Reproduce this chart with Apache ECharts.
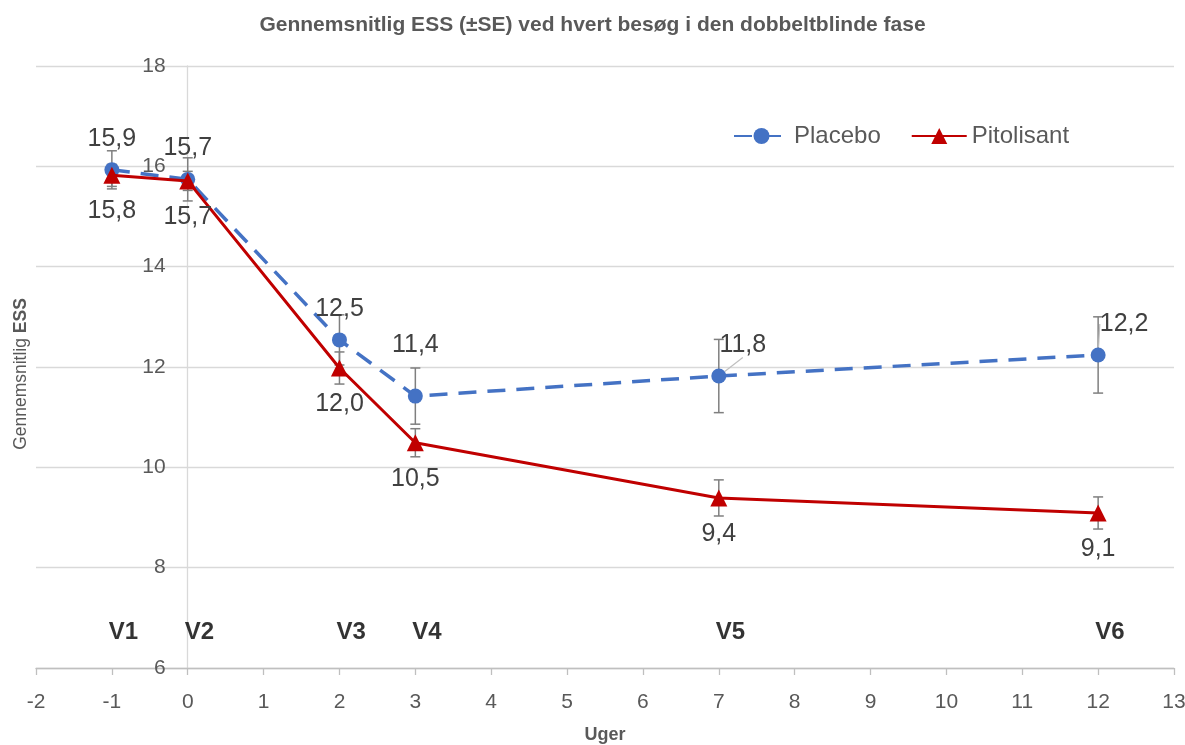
<!DOCTYPE html>
<html><head><meta charset="utf-8">
<script src="https://cdn.jsdelivr.net/npm/echarts@6/dist/echarts.min.js"></script>
<style>html,body{margin:0;padding:0;background:#fff}#c{width:1185px;height:745px}</style>
</head><body><div id="c"></div>
<script>
// ---- data ----
const weeks = [-1, 0, 2, 3, 7, 12];
const visitLabels = ['V1', 'V2', 'V3', 'V4', 'V5', 'V6'];
const placeboMean = [15.93, 15.74, 12.54, 11.42, 11.82, 12.24];
const placeboSE = [0.38, 0.43, 0.50, 0.56, 0.73, 0.76];
const pitolisantMean = [15.82, 15.71, 11.98, 10.49, 9.39, 9.09];
const pitolisantSE = [0.22, 0.19, 0.32, 0.28, 0.36, 0.32];
const xTicks = { min: -2, max: 13, interval: 1 };
const yTicks = { min: 6, max: 18, interval: 2 };

const FONT = '"Liberation Sans", Arial, sans-serif';
const fmt = v => v.toFixed(1).replace('.', ',');
const GRID_LEFT = 36;

const chart = echarts.init(document.getElementById('c'));

function errSeries(mean, se) {
  return {
    type: 'custom', silent: true, z: 1,
    data: weeks.map((w, i) => [w, mean[i] - se[i], mean[i] + se[i]]),
    encode: { x: 0, y: [1, 2] },
    renderItem(params, api) {
      const x = api.value(0);
      const lo = api.coord([x, api.value(1)]);
      const hi = api.coord([x, api.value(2)]);
      const w = 5;
      const st = { stroke: '#7f7f7f', lineWidth: 1.5 };
      return { type: 'group', children: [
        { type: 'line', shape: { x1: lo[0], y1: lo[1], x2: hi[0], y2: hi[1] }, style: st },
        { type: 'line', shape: { x1: lo[0] - w, y1: lo[1], x2: lo[0] + w, y2: lo[1] }, style: st },
        { type: 'line', shape: { x1: hi[0] - w, y1: hi[1], x2: hi[0] + w, y2: hi[1] }, style: st }
      ]};
    }
  };
}

// label tweaks (pixel offsets) for placebo points
const placeboLabelOffset = { 3: [0, -20], 4: [24, 0], 5: [26, 0] };
const placeboLeader = { 4: true, 5: true };

const placeboData = weeks.map((w, i) => {
  const d = { value: [w, placeboMean[i]] };
  if (placeboLabelOffset[i]) d.label = { offset: placeboLabelOffset[i] };
  if (placeboLeader[i]) d.labelLine = { show: true, lineStyle: { color: '#bfbfbf', width: 1.2 } };
  return d;
});
const pitolisantData = weeks.map((w, i) => [w, pitolisantMean[i]]);
const visitData = weeks.map((w, i) => ({ value: [w, 6.72], name: visitLabels[i] }));

const option = {
  animation: false,
  backgroundColor: '#fff',
  title: {
    text: 'Gennemsnitlig ESS (±SE) ved hvert besøg i den dobbeltblinde fase',
    left: 'center', top: 10,
    textStyle: { fontFamily: FONT, fontSize: 21, fontWeight: 'bold', color: '#595959' }
  },
  legend: {
    data: ['Placebo', 'Pitolisant'],
    left: 728, top: 119,
    itemWidth: 55, itemHeight: 20, itemGap: 30,
    textStyle: { fontFamily: FONT, fontSize: 24, color: '#595959' }
  },
  grid: { left: GRID_LEFT, right: 11, top: 66, bottom: 77, outerBoundsMode: 'none', containLabel: false },
  xAxis: {
    type: 'value', min: xTicks.min, max: xTicks.max, interval: xTicks.interval,
    name: 'Uger', nameLocation: 'middle', nameGap: 58,
    nameTextStyle: { fontFamily: FONT, fontSize: 18, fontWeight: 'bold', color: '#595959' },
    axisLine: { onZero: false, lineStyle: { color: '#bfbfbf', width: 1.3 } },
    axisTick: { show: true, length: 7, lineStyle: { color: '#bfbfbf', width: 1.3 } },
    axisLabel: { fontFamily: FONT, fontSize: 21, color: '#595959', margin: 24 },
    splitLine: { show: false }
  },
  yAxis: {
    type: 'value', min: yTicks.min, max: yTicks.max, interval: yTicks.interval,
    offset: 0,
    name: 'Gennemsnitlig {b|ESS}', nameLocation: 'middle', nameGap: 158, nameRotate: 90,
    nameTextStyle: { fontFamily: FONT, fontSize: 17.5, color: '#595959', padding: [0, 14, 0, 0],
      rich: { b: { fontFamily: FONT, fontSize: 17.5, fontWeight: 'bold', color: '#595959' } } },
    axisLine: { show: true, onZero: false, lineStyle: { color: '#d9d9d9', width: 1.3 } },
    axisTick: { show: false },
    axisLabel: { fontFamily: FONT, fontSize: 21, color: '#595959', margin: 22 },
    splitLine: { show: true, lineStyle: { color: '#d9d9d9', width: 1.3 } }
  },
  series: [
    errSeries(placeboMean, placeboSE),
    errSeries(pitolisantMean, pitolisantSE),
    {
      name: 'Placebo', type: 'line', z: 3,
      data: placeboData,
      symbol: 'circle', symbolSize: 15,
      itemStyle: { color: '#4472C4' },
      lineStyle: { color: '#4472C4', width: 3.5, type: [18, 11] },
      label: { show: true, position: 'top', distance: 11, fontFamily: FONT, fontSize: 25, color: '#404040',
        formatter: p => fmt(p.value[1]) }
    },
    {
      name: 'Pitolisant', type: 'line', z: 4,
      data: pitolisantData,
      symbol: 'triangle', symbolSize: 17,
      itemStyle: { color: '#C00000' },
      lineStyle: { color: '#C00000', width: 3 },
      label: { show: true, position: 'bottom', distance: 15, fontFamily: FONT, fontSize: 25, color: '#404040',
        formatter: p => fmt(p.value[1]) }
    },
    {
      type: 'scatter', silent: true, z: 5,
      data: visitData, symbolSize: 0,
      label: { show: true, position: 'right', distance: 0, offset: [-3, 0],
        formatter: p => p.name,
        fontFamily: FONT, fontSize: 24, fontWeight: 'bold', color: '#000' }
    }
  ]
};
chart.setOption(option);
// place the vertical axis where x = 0 (as in the reference)
const zeroPx = chart.convertToPixel({ xAxisIndex: 0 }, 0);
const shift = zeroPx - GRID_LEFT;
chart.setOption({ yAxis: { offset: -shift } });
</script></body></html>
